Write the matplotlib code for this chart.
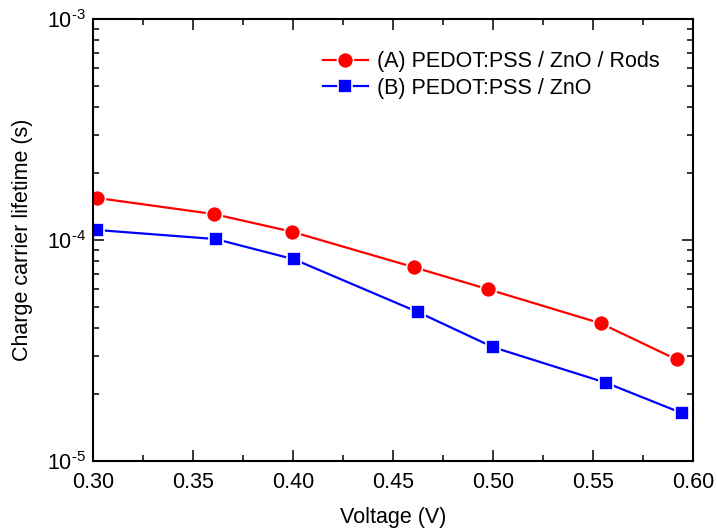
import numpy as np
import matplotlib.pyplot as plt
from matplotlib.ticker import MultipleLocator, LogLocator, NullFormatter, FuncFormatter

plt.rcParams['font.family'] = ['Liberation Sans', 'DejaVu Sans']
plt.rcParams['mathtext.fontset'] = 'custom'
plt.rcParams['mathtext.rm'] = 'Liberation Sans'
plt.rcParams['axes.unicode_minus'] = False

# Voltage (V) and charge carrier lifetime (s) for the two devices
voltage_a = [0.302, 0.3605, 0.3995, 0.4607, 0.4977, 0.5538, 0.5918]
lifetime_a = [1.55e-4, 1.31e-4, 1.09e-4, 7.52e-5, 5.98e-5, 4.20e-5, 2.88e-5]

voltage_b = [0.302, 0.3613, 0.4005, 0.4627, 0.5002, 0.5565, 0.5943]
lifetime_b = [1.11e-4, 1.01e-4, 8.18e-5, 4.71e-5, 3.27e-5, 2.26e-5, 1.65e-5]

label_a = '(A) PEDOT:PSS / ZnO / Rods'
label_b = '(B) PEDOT:PSS / ZnO'

fig = plt.figure(figsize=(7.17, 5.31), dpi=100)
ax = fig.add_axes([0.1297, 0.1318, 0.8368, 0.8324])

ax.plot(voltage_a, lifetime_a, color='#ff0000', lw=1.6, marker='o', ms=11.5,
        mfc='#ff0000', mec='white', mew=1.2, label=label_a)
ax.plot(voltage_b, lifetime_b, color='#0000ff', lw=1.6, marker='s', ms=10.5,
        mfc='#0000ff', mec='white', mew=1.2, label=label_b)

ax.set_yscale('log')
ax.set_xlim(0.30, 0.60)
ax.set_ylim(1e-5, 1e-3)


def decade_label(v, pos):
    # short hyphen in the exponent instead of the wide math minus
    return r'$\mathregular{10^{\text{%d}}}$' % int(round(np.log10(v)))


ax.xaxis.set_major_locator(MultipleLocator(0.05))
ax.xaxis.set_minor_locator(MultipleLocator(0.025))
ax.xaxis.set_major_formatter(FuncFormatter(lambda v, p: f'{v:.2f}'))
ax.yaxis.set_major_locator(LogLocator(base=10, numticks=10))
ax.yaxis.set_major_formatter(FuncFormatter(decade_label))
ax.yaxis.set_minor_locator(LogLocator(base=10, subs=np.arange(2, 10), numticks=20))
ax.yaxis.set_minor_formatter(NullFormatter())

ax.tick_params(which='both', direction='in', top=True, right=True, width=1.1)
ax.tick_params(which='major', length=8, labelsize=15.5)
ax.tick_params(axis='x', which='major', pad=8)
ax.tick_params(axis='y', which='major', pad=5)
ax.tick_params(which='minor', length=4)
for side in ax.spines.values():
    side.set_linewidth(1.5)

ax.set_xlabel('Voltage (V)', fontsize=15.5, labelpad=10)
ax.set_ylabel('Charge carrier lifetime (s)', fontsize=15.5, labelpad=10)

ax.legend(loc='upper right', frameon=False, fontsize=15.5, handlelength=2.1,
          handletextpad=0.4, borderaxespad=0.0, labelspacing=0.25,
          bbox_to_anchor=(0.958, 0.946))

fig.savefig('out.png', dpi=100)
